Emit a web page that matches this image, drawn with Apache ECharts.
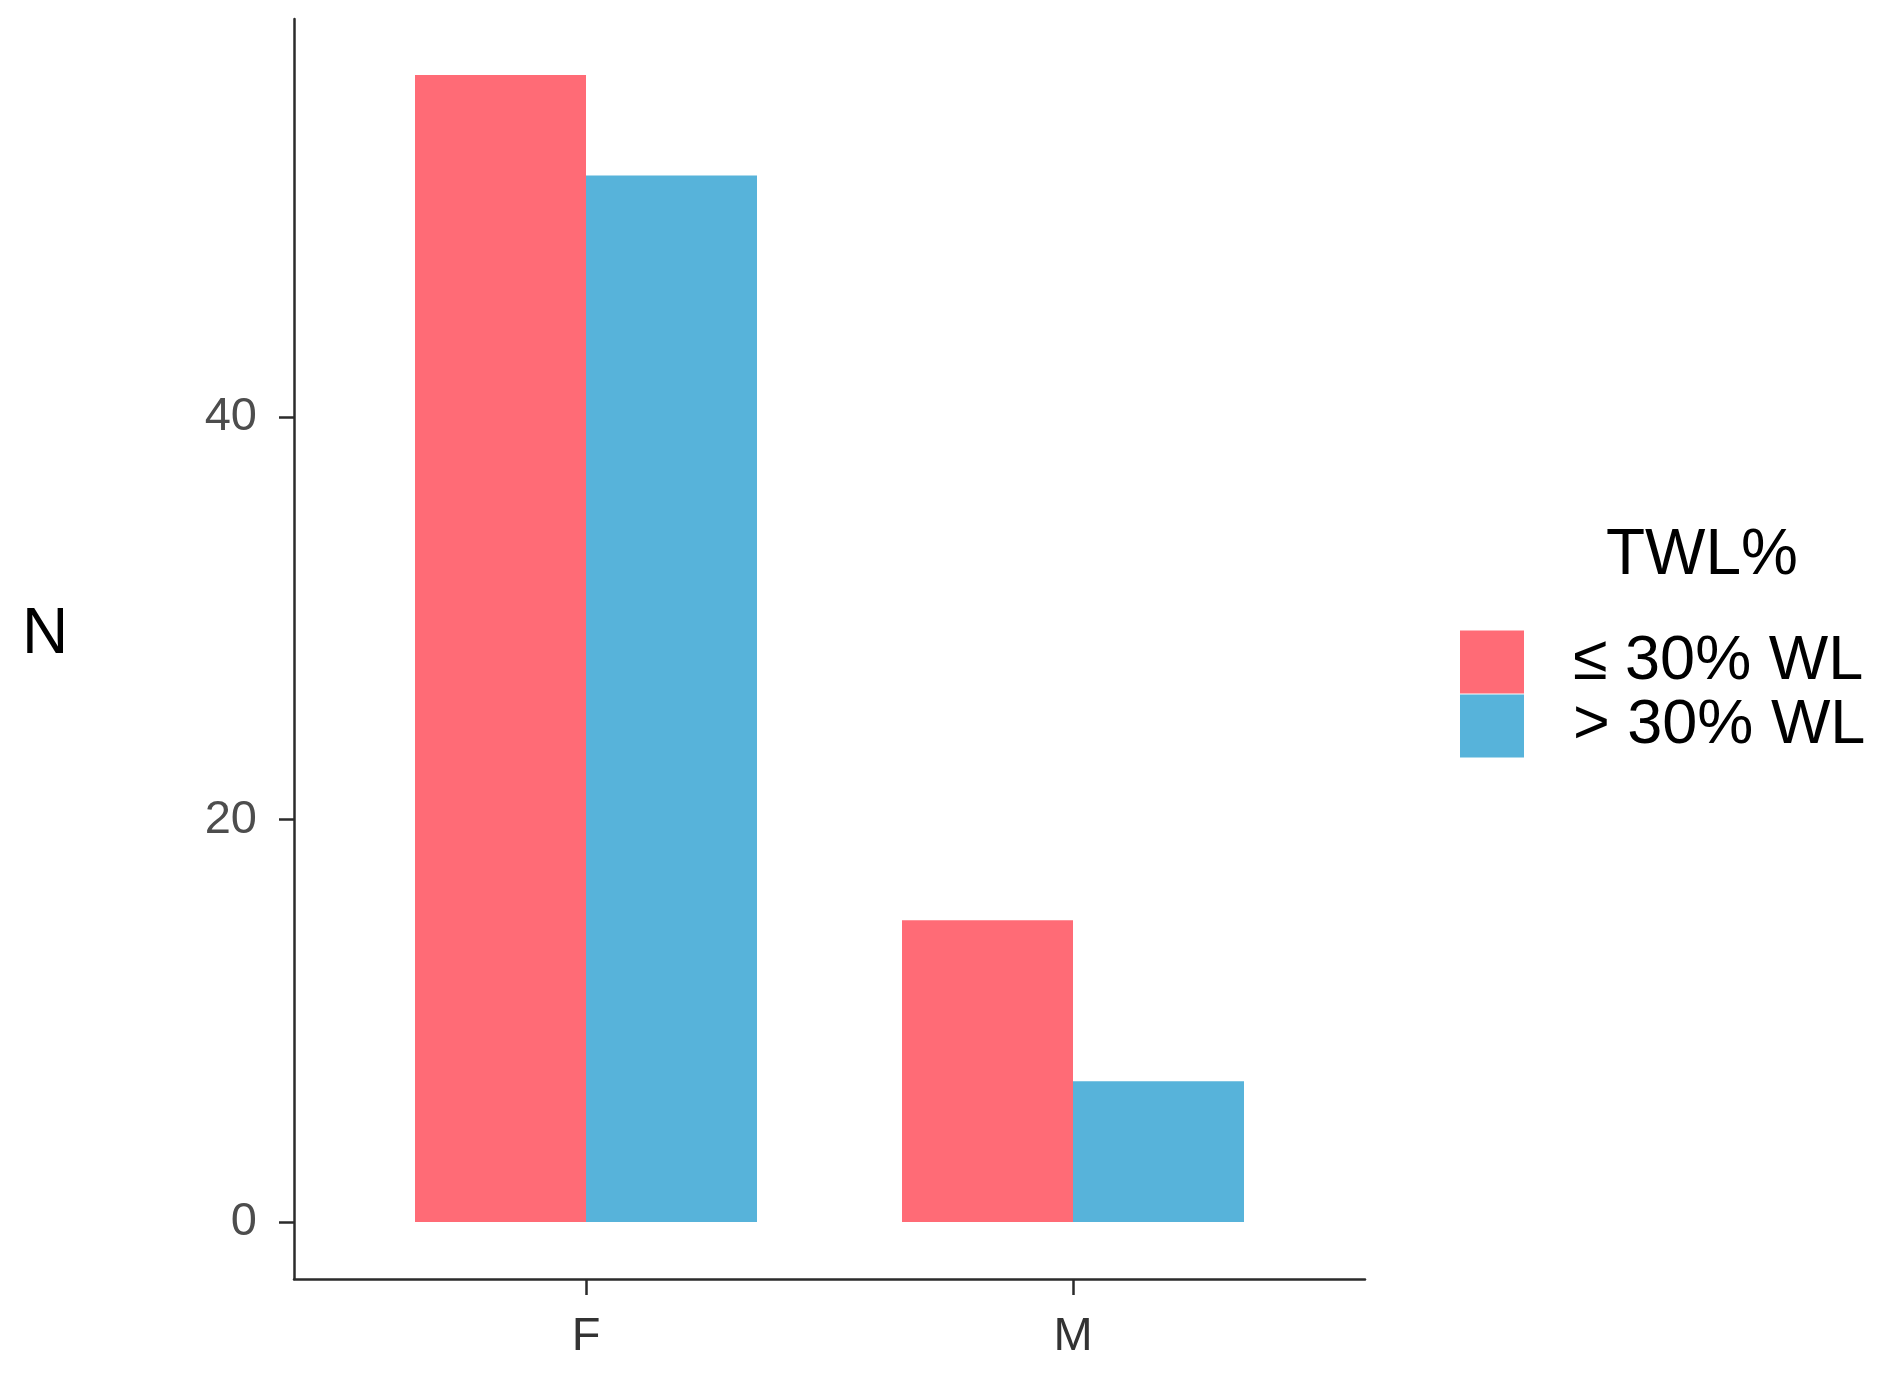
<!DOCTYPE html>
<html>
<head>
<meta charset="utf-8">
<script src="https://cdn.jsdelivr.net/npm/echarts@6/dist/echarts.min.js"></script>
<style>
html,body{margin:0;padding:0;background:#fff;}
#chart{width:1888px;height:1379px;}
</style>
</head>
<body>
<div id="chart"></div>
<script>
const categories = ['F', 'M'];
const seriesNames = ['≤ 30% WL', '> 30% WL'];
const lowWL = [57, 15];
const highWL = [52, 7];
const yTicks = [0, 20, 40];
const legendTitle = 'TWL%';
const yTitle = 'N';

const FONT = '"Liberation Sans", Arial, Helvetica, sans-serif';
const yMin = -2.83, yMax = 59.78;
const axisColor = '#2b2b2b';

const chart = echarts.init(document.getElementById('chart'), null, {renderer: 'canvas'});
chart.setOption({
  backgroundColor: '#ffffff',
  animation: false,
  color: ['#FF6B76', '#57B3DA'],
  title: [
    {text: yTitle, left: 22, top: 603, padding: 0,
     textStyle: {fontFamily: FONT, fontSize: 64, fontWeight: 'normal', color: '#000'}},
    {text: legendTitle, left: 1606, top: 524, padding: 0,
     textStyle: {fontFamily: FONT, fontSize: 64, fontWeight: 'normal', color: '#000'}}
  ],
  legend: {
    orient: 'vertical', left: 1460, top: 630, padding: 0,
    itemWidth: 64, itemHeight: 63, itemGap: 0,
    icon: 'rect',
    data: seriesNames,
    textStyle: {fontFamily: FONT, fontSize: 63, color: '#000', lineHeight: 64, padding: [0, 0, 0, 44]}
  },
  grid: [
    {left: 342.5, right: 571.5, top: 19, bottom: 100, containLabel: false},
    {left: 294, right: 523, top: 19, bottom: 100, containLabel: false}
  ],
  xAxis: [
    {type: 'category', gridIndex: 0, data: categories,
     axisLine: {show: false, onZero: false},
     axisTick: {show: true, alignWithLabel: true, length: 16, lineStyle: {color: axisColor, width: 2.5}},
     axisLabel: {fontFamily: FONT, fontSize: 47, color: '#333', margin: 35},
     splitLine: {show: false}},
    {type: 'value', gridIndex: 1, min: 0, max: 1,
     axisLine: {show: true, onZero: false, lineStyle: {color: axisColor, width: 2.5}},
     axisTick: {show: false}, axisLabel: {show: false}, splitLine: {show: false}}
  ],
  yAxis: [
    {type: 'value', gridIndex: 0, min: yMin, max: yMax, show: false, splitLine: {show: false}},
    {type: 'value', gridIndex: 1, min: yMin, max: yMax,
     axisLine: {show: true, onZero: false, lineStyle: {color: axisColor, width: 2.5}},
     axisTick: {show: true, customValues: yTicks, length: 15, lineStyle: {color: axisColor, width: 2.5}},
     axisLabel: {customValues: yTicks, fontFamily: FONT, fontSize: 47, color: '#4d4d4d', margin: 37},
     splitLine: {show: false}}
  ],
  series: [
    {name: seriesNames[0], type: 'bar', xAxisIndex: 0, yAxisIndex: 0, data: lowWL,
     barWidth: 171, barGap: '0%', itemStyle: {color: '#FF6B76'}},
    {name: seriesNames[1], type: 'bar', xAxisIndex: 0, yAxisIndex: 0, data: highWL,
     barWidth: 171, barGap: '0%', itemStyle: {color: '#57B3DA'}}
  ]
});
</script>
</body>
</html>
